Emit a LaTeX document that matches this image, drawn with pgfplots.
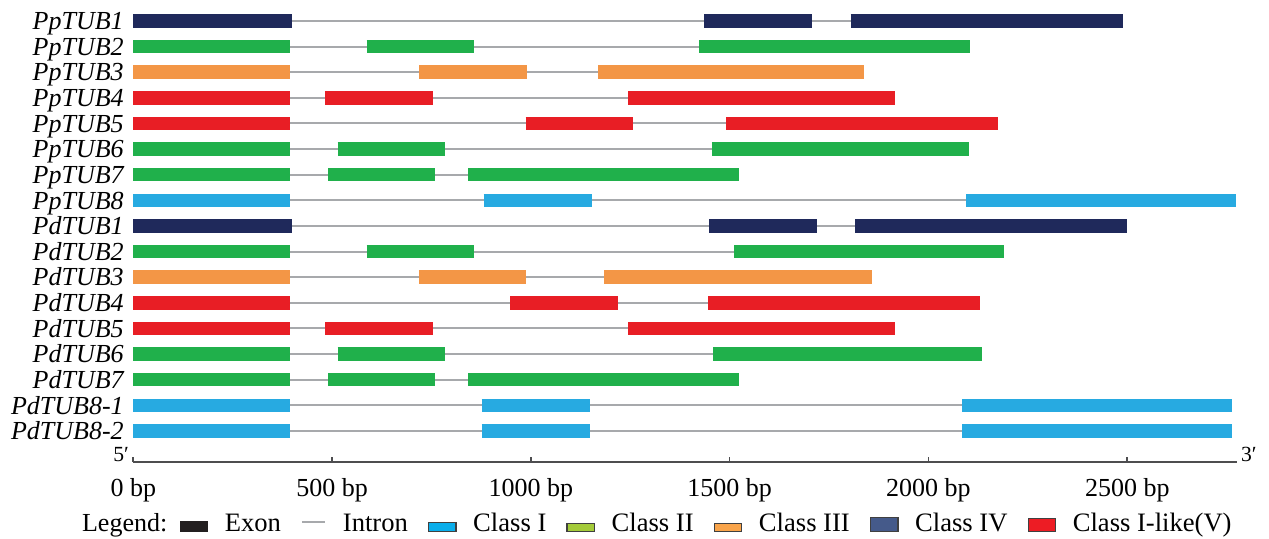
\documentclass[border=0pt]{standalone}
\usepackage{pgfplots}
\pgfplotsset{compat=1.18}
\usepackage{fontspec}
\setmainfont{Liberation Serif}
\definecolor{cnavy}{HTML}{1F295B}
\definecolor{cgreen}{HTML}{20B04B}
\definecolor{corange}{HTML}{F39646}
\definecolor{cred}{HTML}{E81E25}
\definecolor{cblue}{HTML}{27AAE1}
\definecolor{cintron}{HTML}{A7A9AC}
\definecolor{caxis}{HTML}{4D4D4F}
\definecolor{lexon}{HTML}{231F20}
\definecolor{lI}{HTML}{0AAEEB}
\definecolor{lII}{HTML}{A4CB3A}
\definecolor{lIII}{HTML}{F9A44A}
\definecolor{lIV}{HTML}{455A8A}
\definecolor{lV}{HTML}{ED1C24}
\newcommand{\fs}{\fontsize{13pt}{15pt}\selectfont}
\newcommand{\fl}{\fontsize{13.3pt}{15pt}\selectfont}
\newcommand{\fp}{\fontsize{10.8pt}{13pt}\selectfont}
\begin{document}
\begin{tikzpicture}
\useasboundingbox (0,0) rectangle (634.5pt,269pt);
\begin{axis}[
  at={(66.65pt,38.15pt)}, anchor=south west,
  scale only axis, width=551.65pt, height=230.625pt,
  xmin=0, xmax=2775, ymin=-18.2, ymax=-0.2,
  clip=false,
  axis x line=bottom, axis y line=left,
  x axis line style={-, draw=caxis, line width=1pt},
  y axis line style={draw=none},
  xtick={0,500,1000,1500,2000,2500},
  xticklabels={0 bp,500 bp,1000 bp,1500 bp,2000 bp,2500 bp},
  xtick align=inside,
  major tick length=2.5pt,
  xtick style={draw=caxis, line width=0.8pt},
  ytick style={draw=none},
  xticklabel style={font=\fs, yshift=-5pt},
  ytick={-17,-16,-15,-14,-13,-12,-11,-10,-9,-8,-7,-6,-5,-4,-3,-2,-1},
  yticklabels={PdTUB8-2,PdTUB8-1,PdTUB7,PdTUB6,PdTUB5,PdTUB4,PdTUB3,PdTUB2,PdTUB1,PpTUB8,PpTUB7,PpTUB6,PpTUB5,PpTUB4,PpTUB3,PpTUB2,PpTUB1},
  yticklabel style={font=\fs\itshape, text height=8.7pt, text depth=0pt},
  legend columns=-1,
  legend style={at={(0.0423,-0.1344)}, anchor=west, draw=none, fill=none,
    inner sep=0pt, outer sep=0pt, font=\fl,
    nodes={inner sep=0pt, text height=8pt, text depth=0pt},
    /tikz/every odd column/.append style={column sep=8.3pt},
    /tikz/every even column/.append style={column sep=10pt}},
]
% introns
\addplot[forget plot, cintron, line width=1pt, unbounded coords=jump] coordinates {
(0,-1)(2488,-1)(nan,nan)
(0,-2)(2105,-2)(nan,nan)
(0,-3)(1838,-3)(nan,nan)
(0,-4)(1917,-4)(nan,nan)
(0,-5)(2176,-5)(nan,nan)
(0,-6)(2101,-6)(nan,nan)
(0,-7)(1523,-7)(nan,nan)
(0,-8)(2774,-8)(nan,nan)
(0,-9)(2499,-9)(nan,nan)
(0,-10)(2191,-10)(nan,nan)
(0,-11)(1857,-11)(nan,nan)
(0,-12)(2130,-12)(nan,nan)
(0,-13)(1917,-13)(nan,nan)
(0,-14)(2134,-14)(nan,nan)
(0,-15)(1523,-15)(nan,nan)
(0,-16)(2764,-16)(nan,nan)
(0,-17)(2764,-17)
};
% Class IV (navy)
\addplot[forget plot, cnavy, line width=6.75pt, line cap=butt, unbounded coords=jump] coordinates {
(0,-1)(400,-1)(nan,nan)(1436,-1)(1708,-1)(nan,nan)(1804,-1)(2488,-1)(nan,nan)
(0,-9)(400,-9)(nan,nan)(1449,-9)(1719,-9)(nan,nan)(1816,-9)(2499,-9)
};
% Class II (green)
\addplot[forget plot, cgreen, line width=6.75pt, line cap=butt, unbounded coords=jump] coordinates {
(0,-2)(395,-2)(nan,nan)(587,-2)(858,-2)(nan,nan)(1423,-2)(2105,-2)(nan,nan)
(0,-6)(395,-6)(nan,nan)(514,-6)(784,-6)(nan,nan)(1455,-6)(2101,-6)(nan,nan)
(0,-7)(395,-7)(nan,nan)(490,-7)(759,-7)(nan,nan)(842,-7)(1523,-7)(nan,nan)
(0,-10)(395,-10)(nan,nan)(587,-10)(858,-10)(nan,nan)(1511,-10)(2191,-10)(nan,nan)
(0,-14)(395,-14)(nan,nan)(514,-14)(784,-14)(nan,nan)(1459,-14)(2134,-14)(nan,nan)
(0,-15)(395,-15)(nan,nan)(490,-15)(759,-15)(nan,nan)(842,-15)(1523,-15)
};
% Class III (orange)
\addplot[forget plot, corange, line width=6.75pt, line cap=butt, unbounded coords=jump] coordinates {
(0,-3)(395,-3)(nan,nan)(719,-3)(990,-3)(nan,nan)(1169,-3)(1838,-3)(nan,nan)
(0,-11)(395,-11)(nan,nan)(718,-11)(988,-11)(nan,nan)(1185,-11)(1857,-11)
};
% Class I-like (red)
\addplot[forget plot, cred, line width=6.75pt, line cap=butt, unbounded coords=jump] coordinates {
(0,-4)(395,-4)(nan,nan)(482,-4)(753,-4)(nan,nan)(1245,-4)(1917,-4)(nan,nan)
(0,-5)(395,-5)(nan,nan)(987,-5)(1257,-5)(nan,nan)(1491,-5)(2176,-5)(nan,nan)
(0,-12)(395,-12)(nan,nan)(948,-12)(1218,-12)(nan,nan)(1446,-12)(2130,-12)(nan,nan)
(0,-13)(395,-13)(nan,nan)(483,-13)(753,-13)(nan,nan)(1245,-13)(1917,-13)
};
% Class I (blue)
\addplot[forget plot, cblue, line width=6.75pt, line cap=butt, unbounded coords=jump] coordinates {
(0,-8)(395,-8)(nan,nan)(881,-8)(1153,-8)(nan,nan)(2095,-8)(2774,-8)(nan,nan)
(0,-16)(395,-16)(nan,nan)(876,-16)(1148,-16)(nan,nan)(2085,-16)(2764,-16)(nan,nan)
(0,-17)(395,-17)(nan,nan)(876,-17)(1148,-17)(nan,nan)(2085,-17)(2764,-17)
};
% legend
\addlegendimage{legend image code/.code={\draw[fill=lexon,draw=lexon,line width=0.6pt] (0pt,-4pt) rectangle (13.5pt,1pt);}}
\addlegendentry{Exon}
\addlegendimage{legend image code/.code={\draw[cintron,line width=1pt] (0pt,0.5pt) -- (11.7pt,0.5pt);}}
\addlegendentry{Intron}
\addlegendimage{legend image code/.code={\draw[fill=lI,draw=black!75,line width=0.6pt] (0pt,-4pt) rectangle (13.75pt,0.5pt);}}
\addlegendentry{Class I}
\addlegendimage{legend image code/.code={\draw[fill=lII,draw=black!75,line width=0.6pt] (0pt,-4pt) rectangle (13.75pt,0pt);}}
\addlegendentry{Class II}
\addlegendimage{legend image code/.code={\draw[fill=lIII,draw=black!75,line width=0.6pt] (0pt,-4pt) rectangle (13.75pt,0pt);}}
\addlegendentry{Class III}
\addlegendimage{legend image code/.code={\draw[fill=lIV,draw=black!75,line width=0.6pt] (0pt,-4pt) rectangle (13.75pt,3pt);}}
\addlegendentry{Class IV}
\addlegendimage{legend image code/.code={\draw[fill=lV,draw=black!75,line width=0.6pt] (0pt,-4pt) rectangle (13.75pt,2.5pt);}}
\addlegendentry{Class I-like(V)}
\node[font=\fp, anchor=base east, inner sep=0pt] at ([xshift=-2pt]axis cs:0,-18.2) {5′};
\node[font=\fp, anchor=base west, inner sep=0pt] at ([xshift=2pt]axis cs:2775,-18.2) {3′};
\end{axis}
\node[font=\fs, anchor=base west, inner sep=0pt] at (40.85pt,3.15pt) {Legend:};
\end{tikzpicture}
\end{document}
